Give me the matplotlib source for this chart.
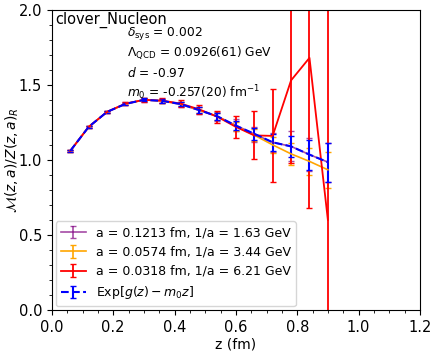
import numpy as np
import matplotlib.pyplot as plt
from matplotlib.ticker import AutoMinorLocator, MultipleLocator

z = [0.06, 0.12, 0.18, 0.24, 0.30, 0.36, 0.42, 0.48, 0.54, 0.60, 0.66, 0.72, 0.78, 0.84, 0.90]

y_a1 = [1.06, 1.22, 1.32, 1.373, 1.40, 1.393, 1.37, 1.33, 1.29, 1.23, 1.172, 1.117, 1.09, 1.035, 0.985]
e_a1 = [0.006, 0.007, 0.008, 0.010, 0.012, 0.015, 0.018, 0.024, 0.03, 0.04, 0.05, 0.065, 0.10, 0.11, 0.13]

y_a2 = [1.06, 1.22, 1.32, 1.373, 1.40, 1.393, 1.372, 1.333, 1.29, 1.225, 1.165, 1.10, 1.04, 0.99, 0.934]
e_a2 = [0.005, 0.006, 0.007, 0.008, 0.010, 0.012, 0.015, 0.02, 0.025, 0.03, 0.04, 0.055, 0.073, 0.09, 0.12]

y_a3 = [1.06, 1.22, 1.32, 1.375, 1.40, 1.395, 1.375, 1.337, 1.287, 1.22, 1.163, 1.16, 1.53, 1.68, 0.60]
e_a3 = [0.005, 0.006, 0.008, 0.010, 0.012, 0.016, 0.022, 0.03, 0.042, 0.075, 0.16, 0.31, 0.55, 1.0, 1.6]

y_fit = [1.06, 1.22, 1.32, 1.373, 1.40, 1.393, 1.372, 1.332, 1.29, 1.228, 1.174, 1.117, 1.09, 1.035, 0.985]
e_fit = [0.005, 0.006, 0.007, 0.008, 0.010, 0.012, 0.015, 0.02, 0.025, 0.03, 0.04, 0.055, 0.07, 0.10, 0.13]

labels = ["a = 0.1213 fm, 1/a = 1.63 GeV",
          "a = 0.0574 fm, 1/a = 3.44 GeV",
          "a = 0.0318 fm, 1/a = 6.21 GeV",
          r"Exp$[g(z)-m_0 z]$"]

fig = plt.figure(figsize=(4.36, 3.51), dpi=100)
ax = fig.add_axes([0.119, 0.117, 0.844, 0.855])

ax.errorbar(z, y_a1, yerr=e_a1, color="purple", alpha=0.7, capsize=2.5, lw=1.2, label=labels[0])
ax.errorbar(z, y_a2, yerr=e_a2, color="orange", capsize=2.5, lw=1.2, label=labels[1])
ax.errorbar(z, y_a3, yerr=e_a3, color="red", capsize=2.5, lw=1.3, label=labels[2])
ax.errorbar(z, y_fit, yerr=e_fit, color="blue", ls="--", capsize=2.5, lw=1.5, label=labels[3])

ax.set_xlim(0, 1.2)
ax.set_ylim(0, 2.0)
ax.xaxis.set_major_locator(MultipleLocator(0.2))
ax.yaxis.set_major_locator(MultipleLocator(0.5))
ax.xaxis.set_minor_locator(AutoMinorLocator())
ax.yaxis.set_minor_locator(AutoMinorLocator())
ax.tick_params(labelsize=10.5)
ax.tick_params(which="major", length=3.5)
ax.tick_params(which="minor", length=2)
ax.set_xlabel("z (fm)", fontsize=10, labelpad=2)
ax.set_ylabel(r"$\mathcal{M}(z,a)/Z(z,a)_R$", fontsize=10)
ax.yaxis.set_label_coords(-0.085, 0.5)

ax.text(0.008, 0.995, "clover_Nucleon", transform=ax.transAxes, fontsize=10.5, va="top", ha="left")
ax.text(0.205, 0.922, r"$\delta_{\rm sys}$ = 0.002", transform=ax.transAxes, fontsize=8.8, va="center")
ax.text(0.205, 0.856, r"$\Lambda_{\rm QCD}$ = 0.0926(61) GeV", transform=ax.transAxes, fontsize=8.8, va="center")
ax.text(0.205, 0.790, r"$d$ = -0.97", transform=ax.transAxes, fontsize=8.8, va="center")
ax.text(0.205, 0.724, r"$m_0$ = -0.257(20) fm$^{-1}$", transform=ax.transAxes, fontsize=8.8, va="center")

ax.legend(loc="lower left", fontsize=9, borderaxespad=0.3)

fig.savefig("out.png", dpi=100)
